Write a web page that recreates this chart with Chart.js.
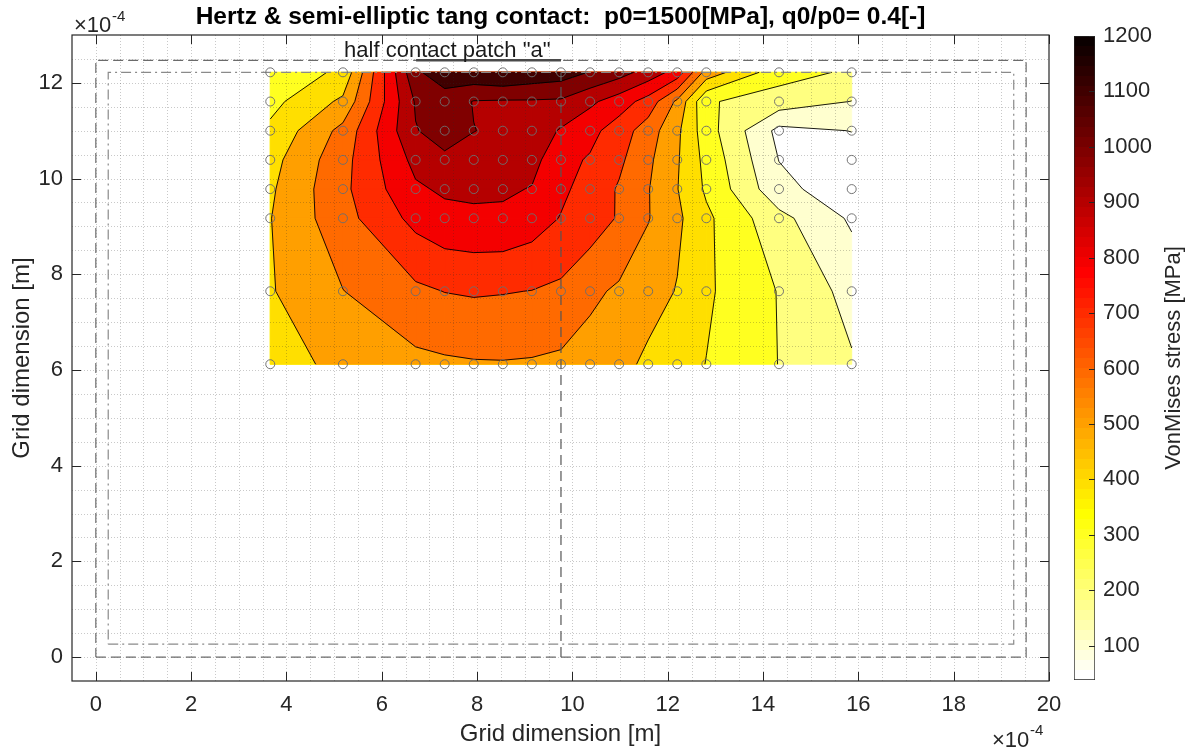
<!DOCTYPE html>
<html>
<head>
<meta charset="utf-8">
<title>Hertz & semi-elliptic tang contact - VonMises stress</title>
<script src="https://cdn.jsdelivr.net/npm/chart.js@4.4.1/dist/chart.umd.min.js"></script>
<style>
  html, body { margin: 0; padding: 0; background: #fff; }
  #wrap { position: relative; width: 1194px; height: 751px; }
  #plot { position: absolute; left: 0; top: 0; }
  #cbar { position: absolute; left: 1050px; top: 0; }
</style>
</head>
<body>
<div id="wrap">
  <canvas id="plot" width="1194" height="751"></canvas>
  <canvas id="cbar" width="144" height="751"></canvas>
</div>
<script>
// grid nodes, in units of 1e-4 m
var gridX = [3.66, 5.185, 6.71, 7.32, 7.93, 8.54, 9.15, 9.76, 10.37, 10.98, 11.59, 12.2, 12.81, 14.335, 15.86];
var gridY = [12.22, 11.61, 11.0, 10.39, 9.78, 9.17, 7.645, 6.12];

// von Mises stress [MPa], one row per gridY value (top to bottom)
var stressRows = [
  [330, 420, 1085, 1150, 1175, 1200, 1170, 1150, 1095, 1040, 960, 860, 560, 340, 285],
  [370, 520, 1010, 1060, 995, 990, 990, 985, 920, 850, 760, 580, 310, 255, 198],
  [420, 630, 995, 1040, 1002, 980, 960, 890, 830, 750, 650, 520, 345, 72, 102],
  [465, 665, 930, 982, 960, 950, 934, 830, 790, 720, 620, 510, 370, 98, 60],
  [485, 677, 885, 915, 920, 915, 895, 820, 760, 690, 605, 503, 385, 130, 38],
  [497, 664, 830, 870, 880, 880, 849, 795, 755, 690, 605, 520, 420, 230, 85],
  [492, 598, 680, 702, 710, 705, 698, 680, 620, 585, 540, 495, 415, 295, 165],
  [450, 530, 575, 585, 592, 594, 590, 580, 560, 530, 480, 440, 398, 298, 210]
];

var contourLevels = [100, 200, 300, 400, 500, 600, 700, 800, 900, 1000, 1100];
var xTicks = [0, 2, 4, 6, 8, 10, 12, 14, 16, 18, 20];
var yTicks = [0, 2, 4, 6, 8, 10, 12];
var cbarTicks = [100, 200, 300, 400, 500, 600, 700, 800, 900, 1000, 1100, 1200];

// reference outlines (same units as the grid)
var outerBox = [[0, 0], [19.52, 0], [19.52, 12.47], [0, 12.47], [0, 0]];
var innerBox = [[0.26, 0.27], [19.26, 0.27], [19.26, 12.22], [0.26, 12.22], [0.26, 0.27]];
var centerLine = [[9.76, 0], [9.76, 12.22]];
var patchLine = [[6.72, 12.47], [9.76, 12.47]];
var patchLabel = { x: 7.375, y: 12.54, text: 'half contact patch "a"' };

var FONT = '"Liberation Sans", Arial, Helvetica, sans-serif';
Chart.defaults.font.family = FONT;
Chart.defaults.color = '#262626';

var allValues = [].concat.apply([], stressRows);
var cMin = Math.min.apply(null, allValues);
var cMax = Math.max.apply(null, allValues);

// flipud(hot(64)) as in MATLAB
function stressColor(v) {
  var m = 64, n = 24;
  var idx = Math.floor((v - cMin) / (cMax - cMin) * m);
  idx = Math.max(0, Math.min(m - 1, idx));
  var k = m - idx;
  var r = k <= n ? k / n : 1;
  var g = k <= n ? 0 : (k <= 2 * n ? (k - n) / n : 1);
  var b = k <= 2 * n ? 0 : (k - 2 * n) / (m - 2 * n);
  return 'rgb(' + Math.round(r * 255) + ',' + Math.round(g * 255) + ',' + Math.round(b * 255) + ')';
}

function clipAbove(poly, level) {
  var out = [];
  for (var i = 0; i < poly.length; i++) {
    var p = poly[i], q = poly[(i + 1) % poly.length];
    var pin = p.v >= level, qin = q.v >= level;
    if (pin) out.push(p);
    if (pin !== qin) {
      var t = (level - p.v) / (q.v - p.v);
      out.push({ x: p.x + t * (q.x - p.x), y: p.y + t * (q.y - p.y), v: level, cut: true });
    }
  }
  return out;
}

function tracePoly(ctx, poly) {
  ctx.beginPath();
  ctx.moveTo(poly[0].x, poly[0].y);
  for (var i = 1; i < poly.length; i++) ctx.lineTo(poly[i].x, poly[i].y);
  ctx.closePath();
}

function pts(list) {
  return list.map(function (p) { return { x: p[0], y: p[1] }; });
}

var nodePoints = [];
gridY.forEach(function (y) { gridX.forEach(function (x) { nodePoints.push({ x: x, y: y }); }); });

var contourPlugin = {
  id: 'contourPlugin',
  beforeDatasetsDraw: function (chart) {
    var ctx = chart.ctx, area = chart.chartArea;
    var sx = chart.scales.x, sy = chart.scales.y;
    var nodes = stressRows.map(function (row, r) {
      return row.map(function (v, c) {
        return { x: sx.getPixelForValue(gridX[c]), y: sy.getPixelForValue(gridY[r]), v: v };
      });
    });
    var nr = nodes.length, nc = nodes[0].length;
    ctx.save();
    ctx.beginPath();
    ctx.rect(area.left, area.top, area.right - area.left, area.bottom - area.top);
    ctx.clip();

    // lowest band
    ctx.fillStyle = stressColor(cMin);
    ctx.fillRect(nodes[0][0].x, nodes[0][0].y, nodes[0][nc - 1].x - nodes[0][0].x, nodes[nr - 1][0].y - nodes[0][0].y);

    // filled bands, painted level by level
    contourLevels.forEach(function (lev) {
      var col = stressColor(lev);
      ctx.fillStyle = col;
      ctx.strokeStyle = col;
      ctx.lineWidth = 0.8;
      for (var r = 0; r < nr - 1; r++) {
        for (var c = 0; c < nc - 1; c++) {
          var quad = [nodes[r][c], nodes[r][c + 1], nodes[r + 1][c + 1], nodes[r + 1][c]];
          var part = clipAbove(quad, lev);
          if (part.length > 2) {
            tracePoly(ctx, part);
            ctx.fill();
            ctx.stroke();
          }
        }
      }
    });

    // contour lines
    ctx.strokeStyle = '#000';
    ctx.lineWidth = 0.9;
    ctx.beginPath();
    contourLevels.forEach(function (lev) {
      for (var r = 0; r < nr - 1; r++) {
        for (var c = 0; c < nc - 1; c++) {
          var quad = [nodes[r][c], nodes[r][c + 1], nodes[r + 1][c + 1], nodes[r + 1][c]];
          var part = clipAbove(quad, lev);
          for (var i = 0; i < part.length; i++) {
            var a = part[i], b = part[(i + 1) % part.length];
            if (a.cut && b.cut) {
              ctx.moveTo(a.x, a.y);
              ctx.lineTo(b.x, b.y);
            }
          }
        }
      }
    });
    ctx.stroke();

    // dotted grid every 0.5
    ctx.strokeStyle = 'rgba(38,38,38,0.25)';
    ctx.lineWidth = 1;
    ctx.setLineDash([1, 2]);
    ctx.beginPath();
    for (var gx = 0; gx < 20; gx += 0.5) {
      var px = Math.round(sx.getPixelForValue(gx)) + 0.5;
      ctx.moveTo(px, area.top);
      ctx.lineTo(px, area.bottom);
    }
    for (var gy = 0; gy < 13; gy += 0.5) {
      var py = Math.round(sy.getPixelForValue(gy)) + 0.5;
      ctx.moveTo(area.left, py);
      ctx.lineTo(area.right, py);
    }
    ctx.stroke();
    ctx.restore();
  },
  afterDatasetsDraw: function (chart) {
    var ctx = chart.ctx, area = chart.chartArea;
    var sx = chart.scales.x, sy = chart.scales.y;
    ctx.save();
    ctx.strokeStyle = '#262626';
    ctx.lineWidth = 1.2;
    ctx.strokeRect(area.left, area.top, area.right - area.left, area.bottom - area.top);
    ctx.lineWidth = 1;
    ctx.beginPath();
    xTicks.forEach(function (v) {
      var px = Math.round(sx.getPixelForValue(v)) + 0.5;
      ctx.moveTo(px, area.bottom); ctx.lineTo(px, area.bottom - 9);
      ctx.moveTo(px, area.top); ctx.lineTo(px, area.top + 9);
    });
    yTicks.forEach(function (v) {
      var py = Math.round(sy.getPixelForValue(v)) + 0.5;
      ctx.moveTo(area.left, py); ctx.lineTo(area.left + 9, py);
      ctx.moveTo(area.right, py); ctx.lineTo(area.right - 9, py);
    });
    ctx.stroke();

    // axis exponents
    ctx.fillStyle = '#262626';
    ctx.textBaseline = 'alphabetic';
    ctx.textAlign = 'left';
    ctx.font = '22px ' + FONT;
    ctx.fillText('\u00d710', 74, 32);
    ctx.fillText('\u00d710', 992, 747);
    ctx.font = '15px ' + FONT;
    ctx.fillText('-4', 112, 21);
    ctx.fillText('-4', 1030, 735);

    // annotation
    ctx.fillStyle = '#1a1a1a';
    ctx.textAlign = 'center';
    ctx.font = '22px ' + FONT;
    ctx.fillText(patchLabel.text, sx.getPixelForValue(patchLabel.x), sy.getPixelForValue(patchLabel.y));
    ctx.restore();
  }
};

new Chart(document.getElementById('plot'), {
  type: 'scatter',
  data: {
    datasets: [
      { label: 'nodes', data: nodePoints, showLine: false, pointRadius: 4.5, pointHoverRadius: 4.5,
        pointBorderWidth: 1, pointBorderColor: 'rgba(110,110,110,0.95)', pointBackgroundColor: 'rgba(0,0,0,0)' },
      { label: 'patch', data: pts(patchLine), showLine: true, borderColor: '#4a4a4a', borderWidth: 2.5, pointRadius: 0 },
      { label: 'center', data: pts(centerLine), showLine: true, borderColor: '#555', borderWidth: 1.2, borderDash: [10, 6], pointRadius: 0 },
      { label: 'inner', data: pts(innerBox), showLine: true, borderColor: '#8a8a8a', borderWidth: 1.2, borderDash: [10, 4, 2, 4], pointRadius: 0 },
      { label: 'outer', data: pts(outerBox), showLine: true, borderColor: '#6b6b6b', borderWidth: 1.2, borderDash: [10, 5], pointRadius: 0 }
    ]
  },
  options: {
    responsive: false,
    animation: false,
    events: [],
    layout: { padding: { left: 0, top: 0, right: 145, bottom: 0 } },
    plugins: {
      legend: { display: false },
      tooltip: { enabled: false },
      title: {
        display: true, fullSize: false,
        text: 'Hertz & semi-elliptic tang contact:  p0=1500[MPa], q0/p0= 0.4[-]',
        color: '#000', font: { size: 24.5, weight: 'bold' }, padding: { top: 2.8, bottom: 2.8 }
      }
    },
    scales: {
      x: {
        type: 'linear', min: -0.5, max: 20,
        afterBuildTicks: function (s) { s.ticks = xTicks.map(function (v) { return { value: v }; }); },
        afterFit: function (s) { s.height = 70; },
        grid: { display: false, drawTicks: false },
        border: { display: false },
        ticks: { font: { size: 22 }, color: '#262626', padding: 11, maxRotation: 0, autoSkip: false,
          callback: function (v) { return String(v); } },
        title: { display: true, text: 'Grid dimension [m]', color: '#262626', font: { size: 24 }, padding: { top: 0, bottom: 2 } }
      },
      y: {
        type: 'linear', min: -0.5, max: 13,
        afterBuildTicks: function (s) { s.ticks = yTicks.map(function (v) { return { value: v }; }); },
        afterFit: function (s) { s.width = 72; },
        grid: { display: false, drawTicks: false },
        border: { display: false },
        ticks: { font: { size: 22 }, color: '#262626', padding: 9, autoSkip: false,
          callback: function (v) { return String(v); } },
        title: { display: true, text: 'Grid dimension [m]', color: '#262626', font: { size: 24 }, padding: { top: 8, bottom: 0 } }
      }
    }
  },
  plugins: [contourPlugin]
});

// colorbar
function barGradient(context) {
  var chart = context.chart;
  if (!chart.chartArea) return '#fff';
  var sy = chart.scales.y;
  var y0 = sy.getPixelForValue(cMin), y1 = sy.getPixelForValue(cMax);
  var g = chart.ctx.createLinearGradient(0, y0, 0, y1);
  for (var i = 0; i < 64; i++) {
    var col = stressColor(cMin + (i + 0.5) * (cMax - cMin) / 64);
    g.addColorStop(i / 64, col);
    g.addColorStop((i + 1) / 64, col);
  }
  return g;
}

var cbarPlugin = {
  id: 'cbarPlugin',
  afterDatasetsDraw: function (chart) {
    var ctx = chart.ctx, area = chart.chartArea, sy = chart.scales.y;
    ctx.save();
    ctx.strokeStyle = '#262626';
    ctx.lineWidth = 1;
    ctx.beginPath();
    cbarTicks.forEach(function (v) {
      var py = Math.round(sy.getPixelForValue(v)) + 0.5;
      ctx.moveTo(area.right, py);
      ctx.lineTo(area.right - 6, py);
    });
    ctx.stroke();
    ctx.translate(124, (area.top + area.bottom) / 2);
    ctx.rotate(-Math.PI / 2);
    ctx.fillStyle = '#262626';
    ctx.font = '22px ' + FONT;
    ctx.textAlign = 'center';
    ctx.textBaseline = 'middle';
    ctx.fillText('VonMises stress [MPa]', 0, 0);
    ctx.restore();
  }
};

new Chart(document.getElementById('cbar'), {
  type: 'bar',
  data: {
    labels: ['stress'],
    datasets: [{
      data: [[cMin, cMax]], backgroundColor: barGradient,
      borderColor: '#262626', borderWidth: 1, borderSkipped: false,
      barPercentage: 1, categoryPercentage: 1
    }]
  },
  options: {
    responsive: false,
    animation: false,
    events: [],
    layout: { padding: { left: 24, top: 36, right: 0, bottom: 71 } },
    plugins: { legend: { display: false }, tooltip: { enabled: false } },
    scales: {
      x: { display: false },
      y: {
        position: 'right', min: cMin, max: cMax,
        afterBuildTicks: function (s) { s.ticks = cbarTicks.map(function (v) { return { value: v }; }); },
        afterFit: function (s) { s.width = 99; },
        grid: { display: false, drawTicks: false },
        border: { display: false },
        ticks: { font: { size: 22 }, color: '#262626', padding: 8, autoSkip: false,
          callback: function (v) { return String(v); } }
      }
    }
  },
  plugins: [cbarPlugin]
});
</script>
</body>
</html>
